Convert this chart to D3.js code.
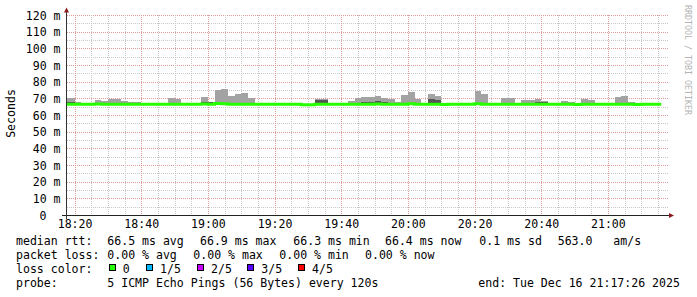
<!DOCTYPE html>
<html>
<head>
<meta charset="utf-8">
<script src="https://cdn.jsdelivr.net/npm/d3@7"></script>
<style>
  body { margin: 0; background: #fff; }
  svg text { font-family: "DejaVu Sans Mono", monospace; font-size: 11.56px; fill: #000; }
</style>
</head>
<body>
<div id="chart"></div>
<script>

// ---- data (one value per 2 minute step, first step 18:16) ----
const firstStep = new Date(2025, 11, 16, 18, 16, 0);
const stepMinutes = 2;

const medianRtt = [
  66.5, 66.5, 66.5, 66.5, 66.5, 66.6, 66.5, 66.5, 66.5, 66.5,
  66.5, 66.5, 66.5, 66.5, 66.5, 66.5, 66.5, 66.5, 66.5, 66.5,
  66.5, 66.6, 66.5, 66.9, 66.7, 66.5, 66.5, 66.5, 66.5, 66.5,
  66.5, 66.5, 66.5, 66.5, 66.5, 66.5, 66.2, 66.2, 66.5, 66.5,
  66.5, 66.5, 66.5, 66.5, 66.5, 66.5, 66.5, 66.6, 66.5, 66.5,
  66.5, 66.5, 66.7, 66.5, 66.5, 66.5, 66.5, 66.3, 66.5, 66.5,
  66.5, 66.5, 66.7, 66.5, 66.5, 66.5, 66.5, 66.5, 66.5, 66.5,
  66.5, 66.5, 66.5, 66.5, 66.5, 66.5, 66.5, 66.3, 66.5, 66.5,
  66.5, 66.5, 66.5, 66.5, 66.5, 66.5, 66.3, 66.5, 66.5, 66.4
];

// lowest ping of each step
const pingMin = [
  66.1, 66.1, 66.1, 66.1, 66.1, 66.2, 66.1, 66.1, 66.1, 66.1,
  66.1, 66.1, 66.1, 66.1, 66.1, 66.1, 66.1, 66.1, 66.1, 66.1,
  66.1, 66.2, 66.1, 66.4, 66.3, 66.1, 66.1, 66.1, 66.1, 66.1,
  66.1, 66.1, 66.1, 66.1, 66.1, 66.1, 65.9, 65.9, 66.1, 66.1,
  66.1, 66.1, 66.1, 66.1, 66.1, 66.1, 66.1, 66.2, 66.1, 66.1,
  66.1, 66.1, 66.3, 66.1, 66.1, 66.1, 66.1, 65.9, 66.1, 66.1,
  66.1, 66.1, 66.3, 66.1, 66.1, 66.1, 66.1, 66.1, 66.1, 66.1,
  66.1, 66.1, 66.1, 66.1, 66.1, 66.1, 66.1, 65.9, 66.1, 66.1,
  66.1, 66.1, 66.1, 66.1, 66.1, 66.1, 65.9, 66.1, 66.1, 66.0
];

// highest ping of each step (top of the light smoke)
const pingMax = [
  70.3, 70.3, 67.8, 66.9, 66.9, 69.0, 68.4, 69.6, 69.6, 68.4,
  67.8, 67.8, 66.9, 66.9, 66.9, 66.9, 70.3, 69.6, 66.9, 66.9,
  66.9, 70.8, 68.0, 75.0, 75.6, 71.4, 72.6, 73.2, 70.2, 66.9,
  66.9, 66.9, 66.9, 66.9, 66.9, 66.9, 66.6, 66.6, 69.4, 69.4,
  66.9, 66.9, 66.9, 68.4, 70.2, 70.7, 70.7, 71.4, 70.2, 69.6,
  68.0, 72.0, 73.8, 69.6, 66.9, 72.6, 71.3, 66.7, 66.9, 66.9,
  66.9, 66.9, 74.4, 72.6, 66.9, 66.9, 70.2, 70.2, 66.9, 69.0,
  69.0, 69.6, 68.4, 66.9, 66.9, 68.4, 67.8, 67.2, 69.6, 69.0,
  66.9, 66.9, 66.9, 70.8, 71.4, 67.8, 66.6, 66.9, 66.9, 66.8
];

// top of the dark inner smoke band, 0 where there is none
const darkSmokeTop = [
  67.8, 67.8, 0, 0, 0, 0, 0, 0, 0, 0,
  0, 0, 0, 0, 0, 0, 0, 0, 0, 0,
  0, 67.8, 67.9, 0, 0, 0, 0, 0, 0, 0,
  0, 0, 0, 0, 0, 0, 0, 0, 69.0, 69.0,
  0, 0, 0, 0, 0, 67.8, 67.8, 68.6, 67.8, 0,
  0, 0, 0, 0, 0, 69.6, 69.0, 0, 0, 0,
  0, 0, 0, 0, 0, 0, 0, 0, 0, 0,
  0, 67.8, 67.8, 0, 0, 0, 0, 0, 0, 0,
  0, 0, 0, 0, 0, 0, 0, 0, 0, 0
];

const yTickValues = [0, 10, 20, 30, 40, 50, 60, 70, 80, 90, 100, 110, 120];

// legend values
const rttStats = [["avg", 66.5], ["max", 66.9], ["min", 66.3], ["now", 66.4]];
const rttSd = 0.1;
const rttAmS = 563.0;
const lossStats = [["avg", 0], ["max", 0], ["min", 0], ["now", 0]];
const lossLabels = ["0", "1/5", "2/5", "3/5", "4/5"];
const lossColors = ["#26ff00", "#00b8ff", "#c800ff", "#5a00ff", "#ff0000"];
const probeText = "5 ICMP Echo Pings (56 Bytes) every 120s";
const endText = "end: Tue Dec 16 21:17:26 2025";
const timeStart = new Date(2025, 11, 16, 18, 17, 26);
const timeEnd = new Date(2025, 11, 16, 21, 17, 26);


class SmokeChart {

    constructor(width, height) {
        this.width = width;
        this.height = height;
        this.left = 66;   // time axis origin
        this.right = 666;
        this.svg = d3.select("#chart").append("svg")
            .attr("width", width)
            .attr("height", height);

        this.xScale = d3.scaleTime().domain([timeStart, timeEnd]).range([this.left, this.right]);
        this.yScale = d3.scaleLinear().domain([0, 120]).range([215, 15]);

        this.steps = medianRtt.map((m, i) => ({
            t0: d3.timeMinute.offset(firstStep, i * stepMinutes),
            t1: d3.timeMinute.offset(firstStep, (i + 1) * stepMinutes),
            median: m, min: pingMin[i], max: pingMax[i], dark: darkSmokeTop[i]
        }));

        this.createGrid();
        this.drawSmoke();
        this.drawMedian();
        this.createAxes();
        this.createLegend();
    }

    createGrid() {
        const g = this.svg.append("g").attr("shape-rendering", "crispEdges");
        const x = this.xScale, y = this.yScale;
        const px = v => Math.round(v) + 0.5;

        // horizontal grid, every 5 ms (10 ms are major)
        d3.range(5, 121, 5).forEach(v => {
            const major = v % 10 === 0;
            g.append("line")
                .attr("x1", 67).attr("x2", 668)
                .attr("y1", px(y(v))).attr("y2", px(y(v)))
                .attr("stroke", major ? "#e09a9a" : "#c8c8c8")
                .attr("stroke-dasharray", "1,1");
        });

        // vertical grid, every 5 min (20 min are major)
        x.ticks(d3.timeMinute.every(5)).forEach(t => {
            const major = t.getMinutes() % 20 === 0;
            g.append("line")
                .attr("x1", px(x(t))).attr("x2", px(x(t)))
                .attr("y1", 15).attr("y2", 215)
                .attr("stroke", major ? "#e09a9a" : "#c8c8c8")
                .attr("stroke-dasharray", "1,1");
        });
    }

    drawSmoke() {
        const x = this.xScale, y = this.yScale;
        this.svg.append("clipPath").attr("id", "plotclip")
            .append("rect").attr("x", 67).attr("y", 0).attr("width", this.right - 67).attr("height", 215);

        const g = this.svg.append("g")
            .attr("clip-path", "url(#plotclip)")
            .attr("shape-rendering", "crispEdges");

        g.selectAll("rect.smoke")
            .data(this.steps)
            .join("rect")
            .attr("class", "smoke")
            .attr("x", d => x(d.t0))
            .attr("width", d => x(d.t1) - x(d.t0))
            .attr("y", d => y(d.max))
            .attr("height", d => y(d.min) - y(d.max))
            .attr("fill", "#a3a3a3");

        g.selectAll("rect.dark")
            .data(this.steps.filter(d => d.dark > 0))
            .join("rect")
            .attr("class", "dark")
            .attr("x", d => x(d.t0))
            .attr("width", d => x(d.t1) - x(d.t0))
            .attr("y", d => y(d.dark))
            .attr("height", d => y(d.min) - y(d.dark))
            .attr("fill", "#555555");
    }

    drawMedian() {
        const x = this.xScale, y = this.yScale;
        const pts = this.steps.map(d => [d.t0, d.median]);
        const last = this.steps[this.steps.length - 1];
        pts.push([last.t1, last.median]);

        const line = d3.line()
            .x(d => x(d[0]))
            .y(d => y(d[1]))
            .curve(d3.curveStepAfter);

        this.svg.append("path")
            .datum(pts)
            .attr("clip-path", "url(#plotclip)")
            .attr("d", line)
            .attr("fill", "none")
            .attr("stroke", lossColors[0])
            .attr("stroke-width", 3);
    }

    createAxes() {
        const x = this.xScale, y = this.yScale;

        const xAxis = this.svg.append("g")
            .attr("transform", "translate(0,215)")
            .call(d3.axisBottom(x)
                .ticks(d3.timeMinute.every(20))
                .tickFormat(d3.timeFormat("%H:%M"))
                .tickSize(0).tickPadding(5));
        xAxis.select(".domain").remove();
        xAxis.selectAll("text").attr("font-family", null).attr("font-size", null);

        const yAxis = this.svg.append("g")
            .attr("transform", "translate(67,0)")
            .call(d3.axisLeft(y)
                .tickValues(yTickValues)
                .tickFormat(v => v === 0 ? "0" : v + " m")
                .tickSize(0).tickPadding(6.5));
        yAxis.select(".domain").remove();
        yAxis.selectAll("text")
            .attr("font-family", null).attr("font-size", null)
            .attr("dy", "0.36em")
            .filter(v => v === 0).attr("x", -20.5);

        // axis lines and arrows
        this.svg.append("line")
            .attr("x1", 62).attr("x2", 670).attr("y1", 215.5).attr("y2", 215.5)
            .attr("stroke", "#222").attr("shape-rendering", "crispEdges");
        this.svg.append("line")
            .attr("x1", 66.5).attr("x2", 66.5).attr("y1", 219).attr("y2", 11)
            .attr("stroke", "#333").attr("shape-rendering", "crispEdges");
        this.svg.append("path")
            .attr("d", "M64,12.5 L69,12.5 L66.5,7.5 Z").attr("fill", "#8b1a1a");
        this.svg.append("path")
            .attr("d", "M669,213 L669,218 L674,215.5 Z").attr("fill", "#8b1a1a");

        this.svg.append("text")
            .attr("transform", "translate(15,113.5) rotate(-90)")
            .attr("text-anchor", "middle")
            .text("Seconds");

        this.svg.append("text")
            .attr("transform", "translate(685,5) rotate(90)")
            .style("font-size", "8.3px")
            .style("fill", "#b4b4b4")
            .text("RRDTOOL / TOBI OETIKER");
    }

    createLegend() {
        const g = this.svg.append("g");
        const put = (xPos, yPos, str) =>
            g.append("text").attr("x", xPos).attr("y", yPos).attr("xml:space", "preserve").text(str);

        // median rtt row
        const rttX = [107.3, 200, 293.3, 385];
        put(16, 245.2, "median rtt:");
        rttStats.forEach((s, i) => put(rttX[i], 245.2, s[1].toFixed(1) + " ms " + s[0]));
        put(479.3, 245.2, rttSd.toFixed(1) + " ms sd");
        put(557.7, 245.2, rttAmS.toFixed(1) + "   am/s");

        // packet loss row
        const lossX = [107.3, 193.3, 279.3, 365];
        put(16, 259, "packet loss:");
        lossStats.forEach((s, i) => put(lossX[i], 259, s[1].toFixed(2) + " % " + s[0]));

        // loss colour row
        const swatchX = [109.5, 146.5, 197.5, 247.5, 298.5];
        const labelX = [122.7, 160, 211, 261.3, 312];
        put(16, 273.2, "loss color:");
        lossLabels.forEach((lbl, i) => {
            g.append("rect")
                .attr("x", swatchX[i]).attr("y", 264.5)
                .attr("width", 6).attr("height", 6)
                .attr("fill", lossColors[i])
                .attr("stroke", "#000")
                .attr("shape-rendering", "crispEdges");
            put(labelX[i], 273.2, lbl);
        });

        // probe row
        put(16, 287.2, "probe:");
        put(107.3, 287.2, probeText);
        put(478.3, 287.2, endText);
    }
}

new SmokeChart(697, 297);
</script>
</body>
</html>
